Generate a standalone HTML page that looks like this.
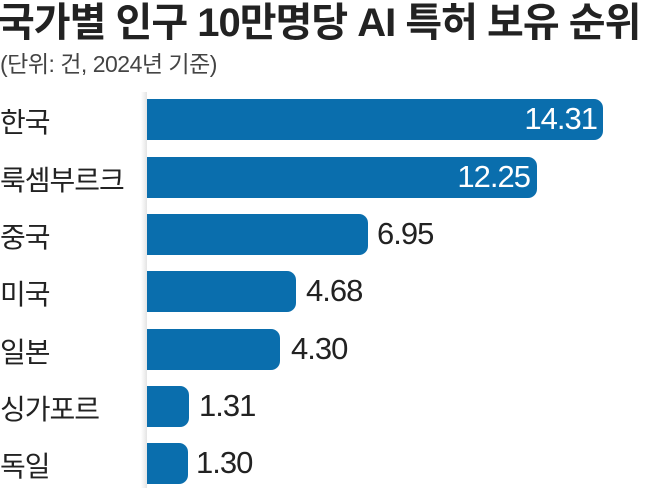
<!DOCTYPE html>
<html><head><meta charset="utf-8"><style>
body{margin:0;width:658px;height:488px;background:#fff;overflow:hidden;position:relative;font-family:"Liberation Sans","Noto Sans CJK KR",sans-serif}
.t{position:absolute;left:-2px;top:-10px;font-size:40px;font-weight:bold;color:#222;letter-spacing:-1px;white-space:nowrap}
.s{position:absolute;left:0;top:45px;font-size:23px;color:#444;letter-spacing:-0.5px;white-space:nowrap}
.l{position:absolute;left:0;font-size:28px;color:#222;white-space:nowrap;letter-spacing:-1px}
.b{position:absolute;left:147px;height:41px;background:#0a6ead;border-radius:0 9px 9px 0}
.v{position:absolute;font-size:31px;color:#222;white-space:nowrap;letter-spacing:-1px}
.w{color:#fff;text-align:right}
.g{position:absolute;left:141px;top:92px;width:6px;height:396px;background:linear-gradient(90deg,#fff,#e4e4e4)}
</style></head><body>
<div class="t">국가별 인구 10만명당 AI 특허 보유 순위</div>
<div class="s">(단위: 건, 2024년 기준)</div>
<div class="g"></div>
<div class="b" style="top:99px;width:456px"></div>
<div class="b" style="top:157px;width:390px"></div>
<div class="b" style="top:214px;width:221px"></div>
<div class="b" style="top:271px;width:149px"></div>
<div class="b" style="top:329px;width:133px"></div>
<div class="b" style="top:386px;width:42px"></div>
<div class="b" style="top:443px;width:41px"></div>
<div class="l" style="top:101px">한국</div>
<div class="l" style="top:159px">룩셈부르크</div>
<div class="l" style="top:216px">중국</div>
<div class="l" style="top:273px">미국</div>
<div class="l" style="top:331px">일본</div>
<div class="l" style="top:388px">싱가포르</div>
<div class="l" style="top:445px">독일</div>
<div class="v w" style="top:101px;left:490px;width:107px">14.31</div>
<div class="v w" style="top:159px;left:420px;width:110px">12.25</div>
<div class="v" style="top:216px;left:377px">6.95</div>
<div class="v" style="top:273px;left:306px">4.68</div>
<div class="v" style="top:331px;left:291px">4.30</div>
<div class="v" style="top:388px;left:199px">1.31</div>
<div class="v" style="top:445px;left:196px">1.30</div>
</body></html>
